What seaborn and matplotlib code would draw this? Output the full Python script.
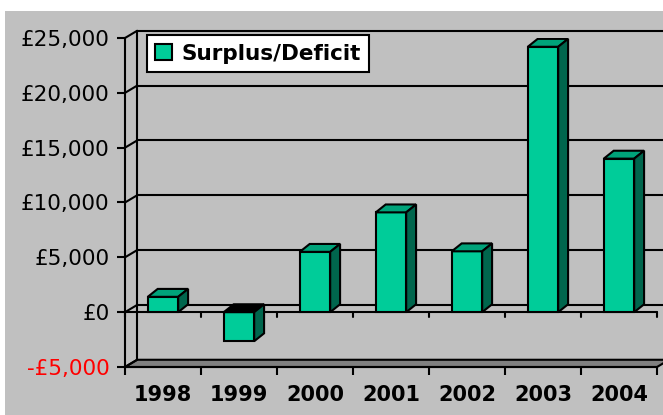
import seaborn as sns
import pandas as pd
import matplotlib
matplotlib.use('Agg')
from matplotlib import pyplot as plt
from matplotlib.patches import Polygon, Rectangle
from matplotlib.ticker import FuncFormatter, FixedLocator

years = ['1998', '1999', '2000', '2001', '2002', '2003', '2004']
surplus = [1400, -2650, 5500, 9100, 5550, 24200, 14000]
y_ticks = [-5000, 0, 5000, 10000, 15000, 20000, 25000]
series_name = 'Surplus/Deficit'

front_col = '#00CC99'
top_col = '#00A37A'
side_col = '#00664D'
bg = '#C0C0C0'

df = pd.DataFrame({'year': years, 'value': surplus})

sns.set_style('white')
plt.rcParams['font.family'] = ['DejaVu Sans']

fig = plt.figure(figsize=(6.63, 4.15), dpi=100, facecolor='white')
fig.patches.append(Rectangle((5 / 663, 0), 1, (415 - 11) / 415, transform=fig.transFigure,
                             facecolor=bg, edgecolor='none', zorder=-10))
ax = fig.add_axes([125 / 663, 48 / 415, 532 / 663, 329 / 415])
ax.set_facecolor('none')

sns.barplot(data=df, x='year', y='value', color=front_col, width=0.4, saturation=1,
            edgecolor='black', linewidth=1.5, label=series_name, ax=ax, zorder=3)
bars = [p for p in ax.patches]

ax.set_xlim(-0.5, 6.5)
ax.set_ylim(-5000, 25000)
n = len(years)

# depth offsets (walls and bars)
dxw, dyw = 0.16, 660
dxb, dyb = 0.13, 720
lw = 1.5
x_right = n - 0.5 + 0.4

# floor slab
floor = Polygon([(-0.5, -5000), (n - 0.5, -5000), (n - 0.5 + dxw, -5000 + dyw), (-0.5 + dxw, -5000 + dyw)],
                closed=True, facecolor='#808080', edgecolor='black', linewidth=lw, clip_on=False, zorder=1)
ax.add_patch(floor)

# back wall gridlines + left wall
for t in y_ticks[1:]:
    ax.plot([-0.5 + dxw, x_right], [t + dyw, t + dyw], color='black', lw=lw, clip_on=False, zorder=1)
for t in y_ticks:
    ax.plot([-0.5, -0.5 + dxw], [t, t + dyw], color='black', lw=lw, clip_on=False, zorder=1)
ax.plot([-0.5 + dxw, -0.5 + dxw], [-5000 + dyw, 25000 + dyw], color='black', lw=lw, clip_on=False, zorder=1)

# zero plane
ax.plot([-0.5, n - 0.5], [0, 0], color='black', lw=lw, clip_on=False, zorder=2)
for i in range(n + 1):
    ax.plot([i - 0.5, i - 0.5], [0, -480], color='black', lw=lw, clip_on=False, zorder=2)

# 3d faces for bars
for p in bars:
    x0, w = p.get_x(), p.get_width()
    y0, h = p.get_y(), p.get_height()
    lo, hi = min(y0, y0 + h), max(y0, y0 + h)
    top_face = Polygon([(x0, hi), (x0 + w, hi), (x0 + w + dxb, hi + dyb), (x0 + dxb, hi + dyb)],
                       closed=True, facecolor=top_col if h > 0 else 'black', edgecolor='black',
                       linewidth=lw, zorder=3)
    side_face = Polygon([(x0 + w, lo), (x0 + w, hi), (x0 + w + dxb, hi + dyb), (x0 + w + dxb, lo + dyb)],
                        closed=True, facecolor=side_col, edgecolor='black', linewidth=lw, zorder=3)
    ax.add_patch(top_face)
    ax.add_patch(side_face)

sns.despine(ax=ax, top=True, right=True)
for s in ['left', 'bottom']:
    ax.spines[s].set_linewidth(lw)
    ax.spines[s].set_color('black')
    ax.spines[s].set_zorder(4)

ax.yaxis.set_major_locator(FixedLocator(y_ticks))
ax.yaxis.set_major_formatter(FuncFormatter(lambda v, _: ('-£' if v < 0 else '£') + f'{abs(int(v)):,}'))
ax.tick_params(axis='y', left=True, length=6, width=lw, pad=5, labelsize=15.5,
               colors='black', labelcolor='black')
fig.canvas.draw()
for lab in ax.get_yticklabels():
    if lab.get_text().startswith('-'):
        lab.set_color('red')

ax.set_xticks(range(n))
ax.set_xticks([i - 0.5 for i in range(n + 1)], minor=True)
ax.tick_params(axis='x', which='major', length=0, pad=13, labelsize=15, labelcolor='black')
ax.tick_params(axis='x', which='minor', bottom=True, length=6, width=lw, color='black')
for lab in ax.get_xticklabels():
    lab.set_fontweight('bold')
ax.set_xlabel('')
ax.set_ylabel('')

leg = ax.legend(loc='upper left', bbox_to_anchor=(0.041, 1.009), borderaxespad=0,
                frameon=True, fancybox=False,
                handlelength=0.75, handleheight=0.75, handletextpad=0.45, borderpad=0.4,
                prop={'size': 15.5, 'weight': 'bold'})
leg.get_frame().set_edgecolor('black')
leg.get_frame().set_linewidth(lw)
leg.get_frame().set_facecolor('white')
leg.get_frame().set_alpha(1)
for t in leg.get_texts():
    t.set_color('black')
leg.set_zorder(5)

fig.savefig('out.png', dpi=100, facecolor='white')
